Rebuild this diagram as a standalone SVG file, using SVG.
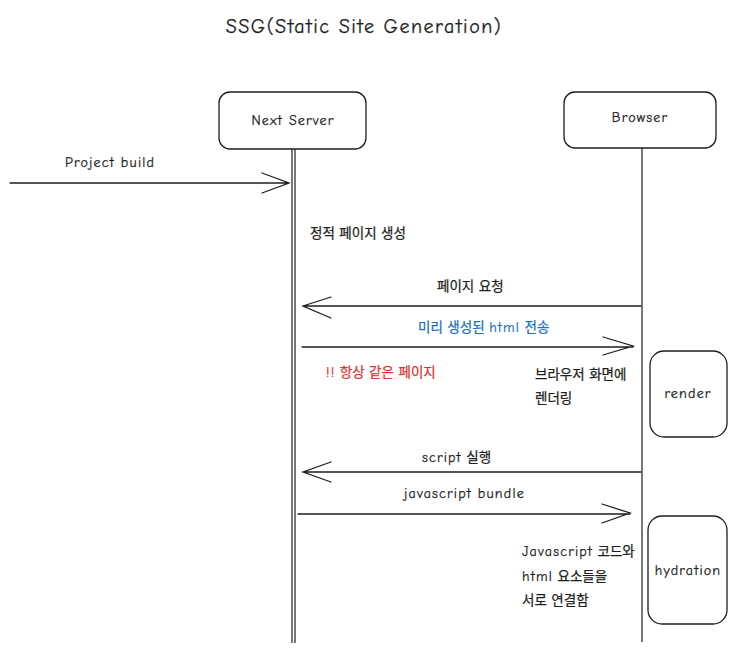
<svg xmlns="http://www.w3.org/2000/svg" width="737" height="652" viewBox="0 0 737 652">
<defs>
<style>
.t{font-family:"Comic Neue","Liberation Sans","Noto Sans CJK KR",sans-serif;font-size:13.5px;fill:#1e1e1e;stroke:#1e1e1e;stroke-width:0.25}
.l{font-size:14px;letter-spacing:1.2px}
.title{font-size:20px;letter-spacing:1.5px}
.box{fill:#fff;stroke:#1e1e1e;stroke-width:1.3}
.ll{stroke:#1e1e1e;stroke-width:1.2;fill:none}
.ar{stroke:#1e1e1e;stroke-width:1.3;fill:none;stroke-linecap:round}
.blue{fill:#1971c2;stroke:#1971c2}
.red{fill:#e03131;stroke:#e03131}
</style>
</defs>
<rect width="737" height="652" fill="#fff"/>
<text class="t title" x="364" y="33" text-anchor="middle">SSG(Static Site Generation)</text>

<g id="lifelines">
<path class="ll" d="M292 149 V643 M295 149 V643" />
<path class="ll" d="M642 148 V642" stroke-width="1.6"/>
</g>

<g id="next-server">
<rect class="box" x="219" y="92" width="147" height="57" rx="11"/>
<text class="t l" x="293" y="125" text-anchor="middle">Next Server</text>
</g>
<g id="browser">
<rect class="box" x="564" y="92" width="152" height="56" rx="11"/>
<text class="t l" x="640" y="122" text-anchor="middle">Browser</text>
</g>
<g id="render">
<rect class="box" x="650" y="351" width="77" height="86" rx="14"/>
<text class="t l" x="688" y="398" text-anchor="middle">render</text>
</g>
<g id="hydration">
<rect class="box" x="648" y="516" width="79" height="108" rx="14"/>
<text class="t l" x="688" y="575" text-anchor="middle">hydration</text>
</g>

<g id="connectors">
<path class="ar" d="M10 183 H289 M262 173 L289 183 L262 193"/>
<path class="ar" d="M641 306 H303 M331 297 L303 306 L331 318"/>
<path class="ar" d="M302 347 H633 M603 337 L633 346 L603 355" stroke="#1971c2"/>
<path class="ar" d="M641 472 H303 M331 462 L303 472 L331 482"/>
<path class="ar" d="M298 514 H630 M602 504 L630 513 L602 523"/>
</g>

<g id="labels">
<text class="t l" x="65" y="167">Project build</text>
<text class="t" x="310" y="238">정적 페이지 생성</text>
<text class="t" x="437" y="291">페이지 요청</text>
<text class="t blue" x="418" y="332">미리 생성된 <tspan class="l">html</tspan> 전송</text>
<text class="t red" x="326" y="377"><tspan class="l">!!</tspan> 항상 같은 페이지</text>
<text class="t" x="535" y="379">브라우저 화면에</text>
<text class="t" x="535" y="403">렌더링</text>
<text class="t" x="422" y="462"><tspan class="l">script</tspan> 실행</text>
<text class="t l" x="404" y="498">javascript bundle</text>
<text class="t" x="522" y="556"><tspan class="l">Javascript</tspan> 코드와</text>
<text class="t" x="522" y="581"><tspan class="l">html</tspan> 요소들을</text>
<text class="t" x="522" y="605">서로 연결함</text>
</g>
</svg>
